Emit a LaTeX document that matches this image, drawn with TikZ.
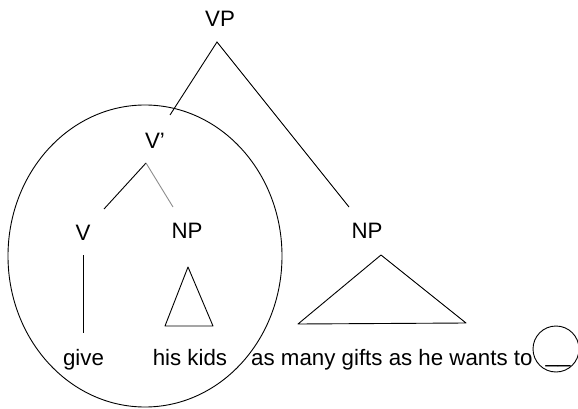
\documentclass[tikz,border=0pt]{standalone}
\usepackage{fontspec}
\setmainfont{Liberation Sans}
\usetikzlibrary{shapes.geometric}
\begin{document}
\begin{tikzpicture}[x=1pt,y=-1pt,
  lbl/.style={inner sep=0pt,anchor=base,font=\fontsize{22.3}{26}\selectfont},
  branch/.style={draw=black,line width=0.9pt},
  lightbranch/.style={draw=black!45,line width=0.9pt},
  roof/.style={draw=black,line width=0.9pt,line join=round}]
\useasboundingbox (0,0) rectangle (578,409);

% category labels
\node[lbl] (vp)  at (220,27) {VP};
\node[lbl] (vbar) at (155,148) {V’};
\node[lbl] (v)   at (83,240) {V};
\node[lbl] (np1) at (187,238) {NP};
\node[lbl] (np2) at (367,238) {NP};

% words
\node[lbl] (give) at (83.5,365) {give};
\node[lbl] (kids) at (190,365) {his kids};
\node[lbl,anchor=base west] (gifts) at (251,365) {as many gifts as he wants to};
\node[lbl] (blank) at (558,362) {\_\_};

% branch end points
\coordinate (vpTop)  at (217,42);
\coordinate (vpL)    at (170,115);
\coordinate (vpR)    at (349,207);
\coordinate (vbTop)  at (146,163);
\coordinate (vbL)    at (104,209);
\coordinate (vbR)    at (173,207);
\coordinate (vTop)   at (83,255);
\coordinate (vBot)   at (83,333);

% branches
\draw[branch] (vpL) -- (vpTop) -- (vpR);
\draw[branch] (vbL) -- (vbTop);
\draw[lightbranch] (vbTop) -- (vbR);
\draw[branch] (vTop) -- (vBot);

% roofs over phrases
\coordinate (t1a) at (188,267);
\coordinate (t1b) at (165,326);
\coordinate (t1c) at (213,326);
\draw[roof] (t1a) -- (t1b) -- (t1c) -- cycle;
\coordinate (t2a) at (381,255);
\coordinate (t2b) at (298,324);
\coordinate (t2c) at (466,323);
\draw[roof] (t2a) -- (t2b) -- (t2c) -- cycle;

% constituent ellipse and gap circle
\node[draw,line width=0.9pt,ellipse,minimum width=274pt,minimum height=302pt,inner sep=0pt] (vbarring) at (145,256) {};
\node[draw,line width=0.9pt,circle,minimum size=46pt,inner sep=0pt] (gap) at (556,349) {};
\end{tikzpicture}
\end{document}
